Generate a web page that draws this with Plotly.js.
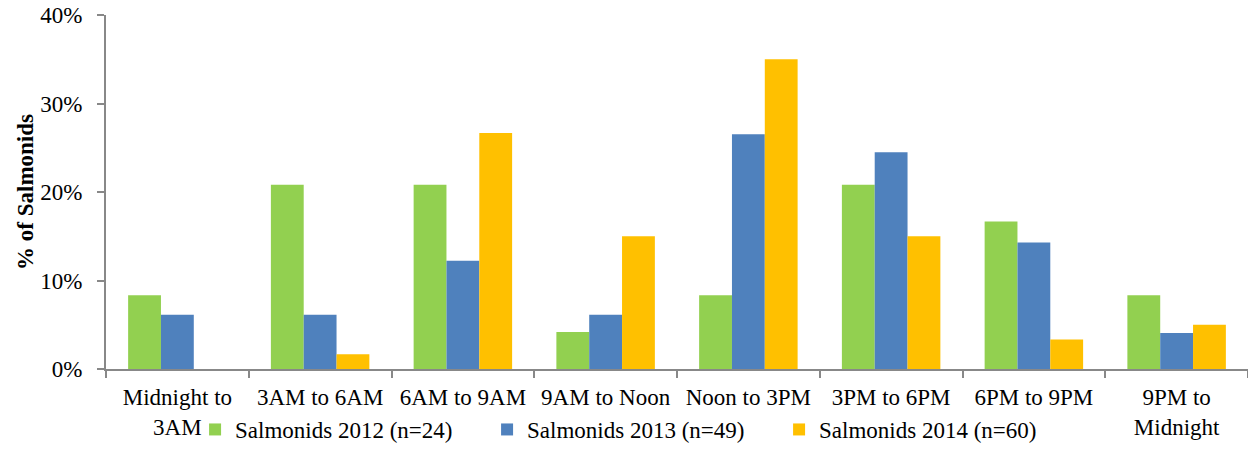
<!DOCTYPE html>
<html>
<head>
<meta charset="utf-8">
<script src="https://cdn.plot.ly/plotly-3.0.1.min.js"></script>
<style>html,body{margin:0;padding:0;background:#fff;}#chart{width:1248px;height:451px;}</style>
</head>
<body>
<div id="chart"></div>
<script>
const categories = ["Midnight to<br>3AM", "3AM to 6AM", "6AM to 9AM", "9AM to Noon", "Noon to 3PM", "3PM to 6PM", "6PM to 9PM", "9PM to<br>Midnight"];
const seriesNames = ["Salmonids 2012 (n=24)", "Salmonids 2013 (n=49)", "Salmonids 2014 (n=60)"];
const salmonids2012 = [0.0833, 0.2083, 0.2083, 0.0417, 0.0833, 0.2083, 0.1667, 0.0833];
const salmonids2013 = [0.0612, 0.0612, 0.1224, 0.0612, 0.2653, 0.2449, 0.1429, 0.0408];
const salmonids2014 = [0.0, 0.0167, 0.2667, 0.15, 0.35, 0.15, 0.0333, 0.05];
const colors = ["#92D050", "#4F81BD", "#FFC000"];
const yTicks = [0, 0.1, 0.2, 0.3, 0.4];
const yTickLabels = ["0%", "10%", "20%", "30%", "40%"];

const font = "'Liberation Serif', 'Times New Roman', serif";
const traces = [salmonids2012, salmonids2013, salmonids2014].map((vals, i) => ({
  type: 'bar', x: categories, y: vals, name: seriesNames[i],
  marker: {color: colors[i]}, hoverinfo: 'skip'
}));

const layout = {
  width: 1248, height: 451,
  margin: {l: 106, r: 0, t: 15, b: 81, pad: 0},
  paper_bgcolor: '#fff', plot_bgcolor: '#fff',
  font: {family: font, size: 23, color: '#000'},
  barmode: 'group', bargap: 0.31, bargroupgap: 0,
  showlegend: true,
  legend: {orientation: 'h', x: 0.078, xanchor: 'left', y: -0.23, yanchor: 'bottom',
           bgcolor: 'rgba(0,0,0,0)', font: {family: font, size: 23},
           entrywidth: 247, entrywidthmode: 'pixels', traceorder: 'normal'},
  xaxis: {type: 'category', showline: true, linecolor: '#888888', linewidth: 2,
          ticks: 'outside', tickson: 'boundaries', ticklen: 7, tickcolor: '#888888', tickwidth: 2,
          showgrid: false, zeroline: false, tickangle: 0, tickfont: {family: font, size: 23},
          ticklabelstandoff: 6, automargin: false},
  yaxis: {range: [0, 0.4], tickvals: yTicks, ticktext: yTickLabels, showline: true,
          linecolor: '#888888', linewidth: 2, ticks: 'outside', ticklen: 7, tickcolor: '#888888', tickwidth: 2,
          showgrid: false, zeroline: false, tickfont: {family: font, size: 23}, ticklabelstandoff: 10,
          automargin: false,
          title: {text: '<b>% of Salmonids</b>', font: {family: font, size: 23}, standoff: 0}}
};
Plotly.newPlot('chart', traces, layout, {displayModeBar: false, staticPlot: true});
</script>
</body>
</html>
